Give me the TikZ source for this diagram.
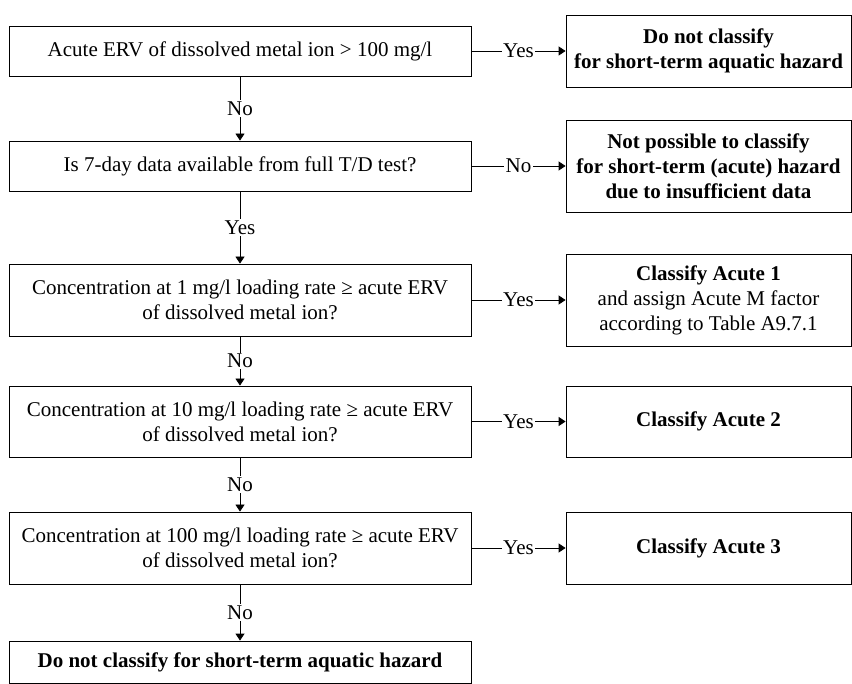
\documentclass[tikz,border=0pt]{standalone}
\usepackage{fontspec}
\setmainfont{Liberation Serif}
\usetikzlibrary{arrows.meta}
\begin{document}
\begin{tikzpicture}[x=1pt,y=-1pt,>={Triangle[length=7pt,width=9pt]},
    box/.style={draw,line width=.8pt,align=center,inner sep=0pt,font=\fontsize{21}{25}\selectfont},
    lbox/.style={box,minimum width=462pt},
    rbox/.style={box,minimum width=285pt},
    lab/.style={fill=white,inner sep=1.5pt,font=\fontsize{21}{25}\selectfont}]
\useasboundingbox (0,0) rectangle (852,684);
% questions
\node[lbox,minimum height=50pt](q1) at (240,51){Acute ERV of dissolved metal ion > 100 mg/l};
\node[lbox,minimum height=50pt](q2) at (240,166){Is 7-day data available from full T/D test?};
\node[lbox,minimum height=72pt](q3) at (240,300){Concentration at 1 mg/l loading rate ≥ acute ERV\\of dissolved metal ion?};
\node[lbox,minimum height=71pt](q4) at (240,421.5){Concentration at 10 mg/l loading rate ≥ acute ERV\\of dissolved metal ion?};
\node[lbox,minimum height=72pt](q5) at (240,548){Concentration at 100 mg/l loading rate ≥ acute ERV\\of dissolved metal ion?};
\node[lbox,minimum height=42pt,font=\fontsize{21}{25}\selectfont\bfseries](q6) at (240,662){Do not classify for short-term aquatic hazard};
% outcomes
\node[rbox,minimum height=72pt,font=\fontsize{21}{25}\selectfont\bfseries](r1) at (708.5,51){Do not classify\\for short-term aquatic hazard};
\node[rbox,minimum height=92pt,font=\fontsize{21}{25}\selectfont\bfseries](r2) at (708.5,166){Not possible to classify\\for short-term (acute) hazard\\due to insufficient data};
\node[rbox,minimum height=92pt](r3) at (708.5,300){\textbf{Classify Acute 1}\\and assign Acute M factor\\according to Table A9.7.1};
\node[rbox,minimum height=71pt](r4) at (708.5,421.5){\textbf{Classify Acute 2}};
\node[rbox,minimum height=72pt](r5) at (708.5,548){\textbf{Classify Acute 3}};
% arrows
\draw[->,line width=.8pt](q1)--node[lab]{No}(q2);
\draw[->,line width=.8pt](q2)--node[lab]{Yes}(q3);
\draw[->,line width=.8pt](q3)--node[lab]{No}(q4);
\draw[->,line width=.8pt](q4)--node[lab]{No}(q5);
\draw[->,line width=.8pt](q5)--node[lab]{No}(q6);
\draw[->,line width=.8pt](q1)--node[lab]{Yes}(r1);
\draw[->,line width=.8pt](q2)--node[lab]{No}(r2);
\draw[->,line width=.8pt](q3)--node[lab]{Yes}(r3);
\draw[->,line width=.8pt](q4)--node[lab]{Yes}(r4);
\draw[->,line width=.8pt](q5)--node[lab]{Yes}(r5);
\end{tikzpicture}
\end{document}
